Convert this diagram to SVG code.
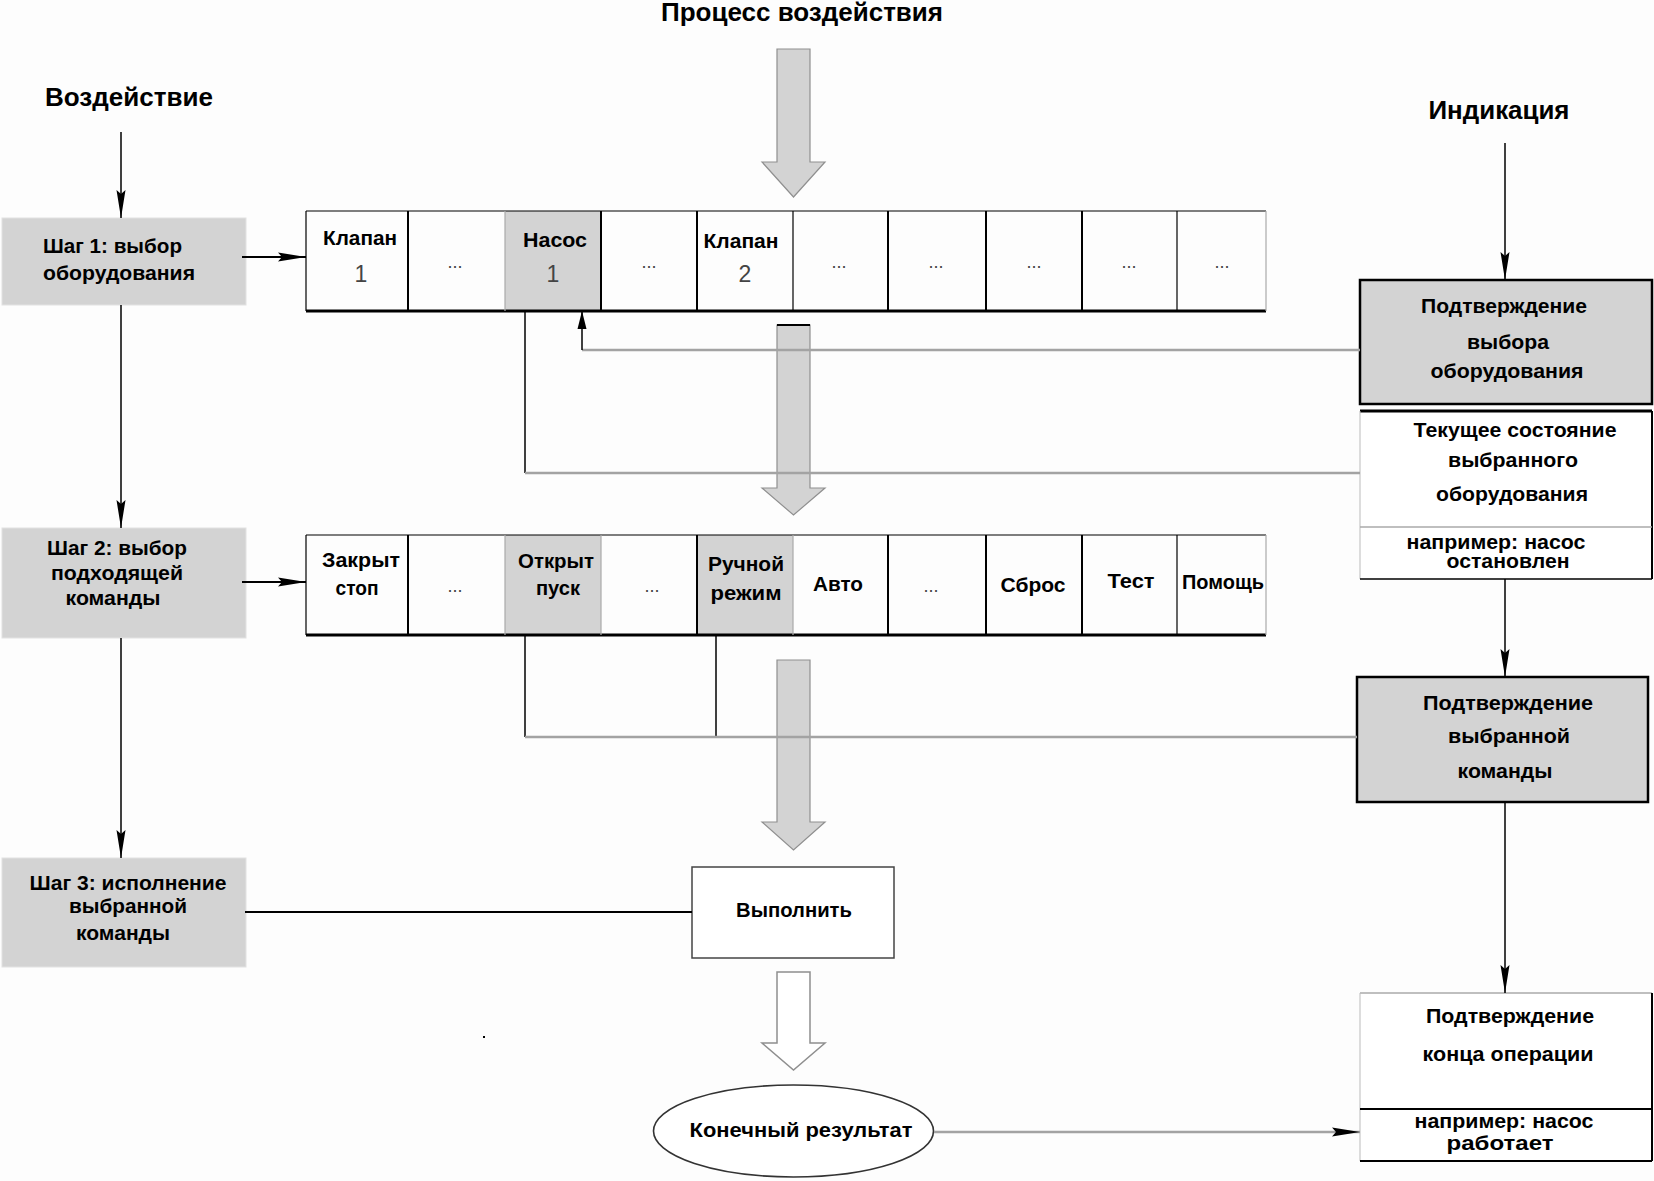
<svg xmlns="http://www.w3.org/2000/svg" width="1654" height="1181" viewBox="0 0 1654 1181">
<defs>
<marker id="ah" markerUnits="userSpaceOnUse" markerWidth="30" markerHeight="10" refX="28" refY="5" orient="auto">
<path d="M0,0.5 L28,5 L0,9.5 L4,5 Z" fill="#000"/>
</marker>
<marker id="ahs" markerUnits="userSpaceOnUse" markerWidth="20" markerHeight="10" refX="18" refY="5" orient="auto">
<path d="M0,0.5 L18,5 L0,9.5 Z" fill="#000"/>
</marker>
</defs>
<style>
text{font-family:"Liberation Sans",Arial,sans-serif;fill:#000;font-weight:bold}
.c{text-anchor:middle}
.s{text-anchor:start}
.n{font-weight:normal;fill:#444;font-size:23px}
.dots{font-weight:normal;fill:#444;font-size:18px;text-anchor:middle}
.f20{font-size:20px}
.f21{font-size:21px}
.f25{font-size:25px}
.gfill{fill:#d3d3d3}
.step{fill:#d3d3d3;stroke:#e2e2e2;stroke-width:1}
.ln{stroke:#000;stroke-width:1.5;fill:none}
.ln2{stroke:#000;stroke-width:2;fill:none}
.gl{stroke:#a3a3a3;stroke-width:2.5;fill:none}
.big{fill:#d3d3d3;stroke:#8f8f8f;stroke-width:1.2}
.hollow{fill:#fff;stroke:#8f8f8f;stroke-width:1.5}
.bx{fill:#d3d3d3;stroke:#000;stroke-width:2.5}
.sep{stroke:#000;stroke-width:2}
.thin{stroke:#000;stroke-width:1.2}
.gsep{stroke:#aaa;stroke-width:1.2}
</style>
<rect x="0" y="0" width="1654" height="1181" fill="#fdfdfd"/>

<g id="titles">
<text class="c f25" x="802" y="21" textLength="282" lengthAdjust="spacingAndGlyphs">Процесс воздействия</text>
<text class="c f25" x="129" y="106" textLength="168" lengthAdjust="spacingAndGlyphs">Воздействие</text>
<text class="c f25" x="1499" y="119" textLength="141" lengthAdjust="spacingAndGlyphs">Индикация</text>
</g>

<g id="big-arrows">
<path class="big" d="M777,49 L810,49 L810,162 L825,162 L793.5,197 L762,162 L777,162 Z"/>
<path class="big" d="M777,325 L810,325 L810,488 L825,488 L793.5,515 L762,488 L777,488 Z"/>
<line x1="777" y1="325" x2="810" y2="325" stroke="#000" stroke-width="2"/>
<path class="big" d="M777,660 L810,660 L810,822 L825,822 L793.5,850 L762,822 L777,822 Z"/>
<path class="hollow" d="M777,972 L810,972 L810,1043 L825,1043 L793.5,1070 L762,1043 L777,1043 Z"/>
</g>

<g id="step1">
<rect class="step" x="2" y="218" width="244" height="87"/>
<text class="s f21" x="43" y="253" textLength="139" lengthAdjust="spacingAndGlyphs">Шаг 1: выбор</text>
<text class="s f21" x="43" y="280" textLength="152" lengthAdjust="spacingAndGlyphs">оборудования</text>
</g>
<g id="step2">
<rect class="step" x="2" y="528" width="244" height="110"/>
<text class="c f21" x="117" y="555" textLength="140" lengthAdjust="spacingAndGlyphs">Шаг 2: выбор</text>
<text class="c f21" x="117" y="580" textLength="132" lengthAdjust="spacingAndGlyphs">подходящей</text>
<text class="c f21" x="113" y="605" textLength="95" lengthAdjust="spacingAndGlyphs">команды</text>
</g>
<g id="step3">
<rect class="step" x="2" y="858" width="244" height="109"/>
<text class="c f21" x="128" y="890" textLength="197" lengthAdjust="spacingAndGlyphs">Шаг 3: исполнение</text>
<text class="c f21" x="128" y="913" textLength="118" lengthAdjust="spacingAndGlyphs">выбранной</text>
<text class="c f21" x="123" y="940" textLength="94" lengthAdjust="spacingAndGlyphs">команды</text>
</g>

<g id="row-equipment">
<rect class="gfill" x="505" y="211" width="96" height="100"/>
<line class="thin" x1="306" y1="211" x2="1266" y2="211"/>
<line x1="306" y1="311" x2="1266" y2="311" stroke="#000" stroke-width="3"/>
<line class="thin" x1="306" y1="211" x2="306" y2="311"/>
<line class="sep" x1="408" y1="211" x2="408" y2="311"/>
<line class="gsep" x1="505" y1="211" x2="505" y2="311"/>
<line class="sep" x1="601" y1="211" x2="601" y2="311"/>
<line class="sep" x1="697" y1="211" x2="697" y2="311"/>
<line class="thin" x1="793" y1="211" x2="793" y2="311"/>
<line class="sep" x1="888" y1="211" x2="888" y2="311"/>
<line class="sep" x1="986" y1="211" x2="986" y2="311"/>
<line class="sep" x1="1082" y1="211" x2="1082" y2="311"/>
<line class="thin" x1="1177" y1="211" x2="1177" y2="311"/>
<line class="gsep" x1="1266" y1="211" x2="1266" y2="311"/>
<g id="cell-valve1">
<text class="c f20" x="360" y="245" textLength="74" lengthAdjust="spacingAndGlyphs">Клапан</text>
<text class="c n" x="361" y="282">1</text>
</g>
<g id="cell-e1"><text class="dots" x="455" y="268">...</text></g>
<g id="cell-pump1">
<text class="c f20" x="555" y="247" textLength="64" lengthAdjust="spacingAndGlyphs">Насос</text>
<text class="c n" x="553" y="282">1</text>
</g>
<g id="cell-e2"><text class="dots" x="649" y="268">...</text></g>
<g id="cell-valve2">
<text class="c f20" x="741" y="248" textLength="75" lengthAdjust="spacingAndGlyphs">Клапан</text>
<text class="c n" x="745" y="282">2</text>
</g>
<g id="cell-e3"><text class="dots" x="839" y="268">...</text></g>
<g id="cell-e4"><text class="dots" x="936" y="268">...</text></g>
<g id="cell-e5"><text class="dots" x="1034" y="268">...</text></g>
<g id="cell-e6"><text class="dots" x="1129" y="268">...</text></g>
<g id="cell-e7"><text class="dots" x="1222" y="268">...</text></g>
</g>

<g id="row-commands">
<rect class="gfill" x="505" y="535" width="96" height="100"/>
<rect class="gfill" x="697" y="535" width="96" height="100"/>
<line class="thin" x1="306" y1="535" x2="1266" y2="535"/>
<line x1="306" y1="635" x2="1266" y2="635" stroke="#000" stroke-width="3"/>
<line class="thin" x1="306" y1="535" x2="306" y2="635"/>
<line class="sep" x1="408" y1="535" x2="408" y2="635"/>
<line class="gsep" x1="505" y1="535" x2="505" y2="635"/>
<line class="gsep" x1="601" y1="535" x2="601" y2="635"/>
<line class="sep" x1="697" y1="535" x2="697" y2="635"/>
<line class="gsep" x1="793" y1="535" x2="793" y2="635"/>
<line class="sep" x1="888" y1="535" x2="888" y2="635"/>
<line class="sep" x1="986" y1="535" x2="986" y2="635"/>
<line class="sep" x1="1082" y1="535" x2="1082" y2="635"/>
<line class="thin" x1="1177" y1="535" x2="1177" y2="635"/>
<line class="gsep" x1="1266" y1="535" x2="1266" y2="635"/>
<g id="cmd-close">
<text class="c f20" x="361" y="567" textLength="78" lengthAdjust="spacingAndGlyphs">Закрыт</text>
<text class="c f20" x="357" y="595" textLength="43" lengthAdjust="spacingAndGlyphs">стоп</text>
</g>
<g id="cmd-e1"><text class="dots" x="455" y="592">...</text></g>
<g id="cmd-open">
<text class="c f20" x="556" y="568" textLength="76" lengthAdjust="spacingAndGlyphs">Открыт</text>
<text class="c f20" x="558" y="595" textLength="44" lengthAdjust="spacingAndGlyphs">пуск</text>
</g>
<g id="cmd-e2"><text class="dots" x="652" y="592">...</text></g>
<g id="cmd-manual">
<text class="c f20" x="746" y="571" textLength="76" lengthAdjust="spacingAndGlyphs">Ручной</text>
<text class="c f20" x="746" y="600" textLength="71" lengthAdjust="spacingAndGlyphs">режим</text>
</g>
<g id="cmd-auto"><text class="c f20" x="838" y="591" textLength="50" lengthAdjust="spacingAndGlyphs">Авто</text></g>
<g id="cmd-e3"><text class="dots" x="931" y="592">...</text></g>
<g id="cmd-reset"><text class="c f20" x="1033" y="592" textLength="65" lengthAdjust="spacingAndGlyphs">Сброс</text></g>
<g id="cmd-test"><text class="c f20" x="1131" y="588" textLength="47" lengthAdjust="spacingAndGlyphs">Тест</text></g>
<g id="cmd-help"><text class="c f20" x="1223" y="589" textLength="82" lengthAdjust="spacingAndGlyphs">Помощь</text></g>
</g>

<g id="execute">
<rect x="692" y="867" width="202" height="91" fill="#fff" stroke="#444" stroke-width="1.5"/>
<text class="c f20" x="794" y="917" textLength="116" lengthAdjust="spacingAndGlyphs">Выполнить</text>
</g>

<g id="result">
<ellipse cx="793.5" cy="1131" rx="140" ry="46" fill="#fff" stroke="#333" stroke-width="1.6"/>
<text class="c f21" x="801" y="1137" textLength="223" lengthAdjust="spacingAndGlyphs">Конечный результат</text>
</g>

<g id="confirm-equipment">
<rect class="bx" x="1360" y="280" width="292" height="124"/>
<text class="c f21" x="1504" y="313" textLength="166" lengthAdjust="spacingAndGlyphs">Подтверждение</text>
<text class="c f21" x="1508" y="349" textLength="82" lengthAdjust="spacingAndGlyphs">выбора</text>
<text class="c f21" x="1507" y="378" textLength="153" lengthAdjust="spacingAndGlyphs">оборудования</text>
</g>

<g id="current-state">
<rect x="1360" y="411" width="292" height="168" fill="#fff"/>
<line x1="1360" y1="411" x2="1652" y2="411" stroke="#000" stroke-width="3"/>
<line x1="1652" y1="411" x2="1652" y2="579" stroke="#000" stroke-width="2"/>
<line x1="1360" y1="411" x2="1360" y2="579" stroke="#bbb" stroke-width="1"/>
<line x1="1360" y1="579" x2="1652" y2="579" stroke="#000" stroke-width="1.5"/>
<line x1="1360" y1="527" x2="1652" y2="527" stroke="#aaa" stroke-width="1.5"/>
<text class="c f21" x="1515" y="437" textLength="203" lengthAdjust="spacingAndGlyphs">Текущее состояние</text>
<text class="c f21" x="1513" y="467" textLength="130" lengthAdjust="spacingAndGlyphs">выбранного</text>
<text class="c f21" x="1512" y="501" textLength="152" lengthAdjust="spacingAndGlyphs">оборудования</text>
<text class="c f20" x="1496" y="549" textLength="179" lengthAdjust="spacingAndGlyphs">например: насос</text>
<text class="c f20" x="1508" y="568" textLength="123" lengthAdjust="spacingAndGlyphs">остановлен</text>
</g>

<g id="confirm-command">
<rect class="bx" x="1357" y="677" width="291" height="125"/>
<text class="c f21" x="1508" y="710" textLength="170" lengthAdjust="spacingAndGlyphs">Подтверждение</text>
<text class="c f21" x="1509" y="743" textLength="122" lengthAdjust="spacingAndGlyphs">выбранной</text>
<text class="c f21" x="1505" y="778" textLength="95" lengthAdjust="spacingAndGlyphs">команды</text>
</g>

<g id="confirm-end">
<rect x="1360" y="993" width="292" height="168" fill="#fff"/>
<line x1="1360" y1="993" x2="1652" y2="993" stroke="#aaa" stroke-width="1.5"/>
<line x1="1360" y1="993" x2="1360" y2="1161" stroke="#bbb" stroke-width="1"/>
<line x1="1652" y1="993" x2="1652" y2="1161" stroke="#000" stroke-width="2"/>
<line x1="1360" y1="1161" x2="1652" y2="1161" stroke="#000" stroke-width="2"/>
<line x1="1360" y1="1109" x2="1652" y2="1109" stroke="#000" stroke-width="2"/>
<text class="c f21" x="1510" y="1023" textLength="168" lengthAdjust="spacingAndGlyphs">Подтверждение</text>
<text class="c f21" x="1508" y="1061" textLength="171" lengthAdjust="spacingAndGlyphs">конца операции</text>
<text class="c f20" x="1504" y="1128" textLength="179" lengthAdjust="spacingAndGlyphs">например: насос</text>
<text class="c f20" x="1500" y="1150" textLength="107" lengthAdjust="spacingAndGlyphs">работает</text>
</g>

<g id="connectors">
<line class="ln" x1="121" y1="132" x2="121" y2="218" marker-end="url(#ah)"/>
<line class="ln" x1="121" y1="305" x2="121" y2="528" marker-end="url(#ah)"/>
<line class="ln" x1="121" y1="638" x2="121" y2="858" marker-end="url(#ah)"/>
<line class="ln2" x1="242" y1="257" x2="306" y2="257" marker-end="url(#ah)"/>
<line class="ln2" x1="242" y1="582" x2="306" y2="582" marker-end="url(#ah)"/>
<line class="ln2" x1="245" y1="912" x2="692" y2="912"/>
<line class="ln" x1="1505" y1="143" x2="1505" y2="280" marker-end="url(#ah)"/>
<line class="ln" x1="1505" y1="579" x2="1505" y2="677" marker-end="url(#ah)"/>
<line class="ln" x1="1505" y1="802" x2="1505" y2="993" marker-end="url(#ah)"/>
<line class="gl" x1="934" y1="1132" x2="1360" y2="1132" stroke-width="1.5" marker-end="url(#ah)"/>
<line class="gl" x1="582" y1="350" x2="1360" y2="350"/>
<line class="ln" x1="582" y1="350" x2="582" y2="311" marker-end="url(#ahs)"/>
<line class="ln" x1="525" y1="311" x2="525" y2="473"/>
<line class="gl" x1="525" y1="473" x2="1360" y2="473"/>
<line class="ln" x1="525" y1="635" x2="525" y2="737"/>
<line class="ln" x1="716" y1="635" x2="716" y2="737"/>
<line class="gl" x1="525" y1="737" x2="1357" y2="737"/>
</g>
<rect x="483" y="1036" width="2" height="2" fill="#000"/>
</svg>
